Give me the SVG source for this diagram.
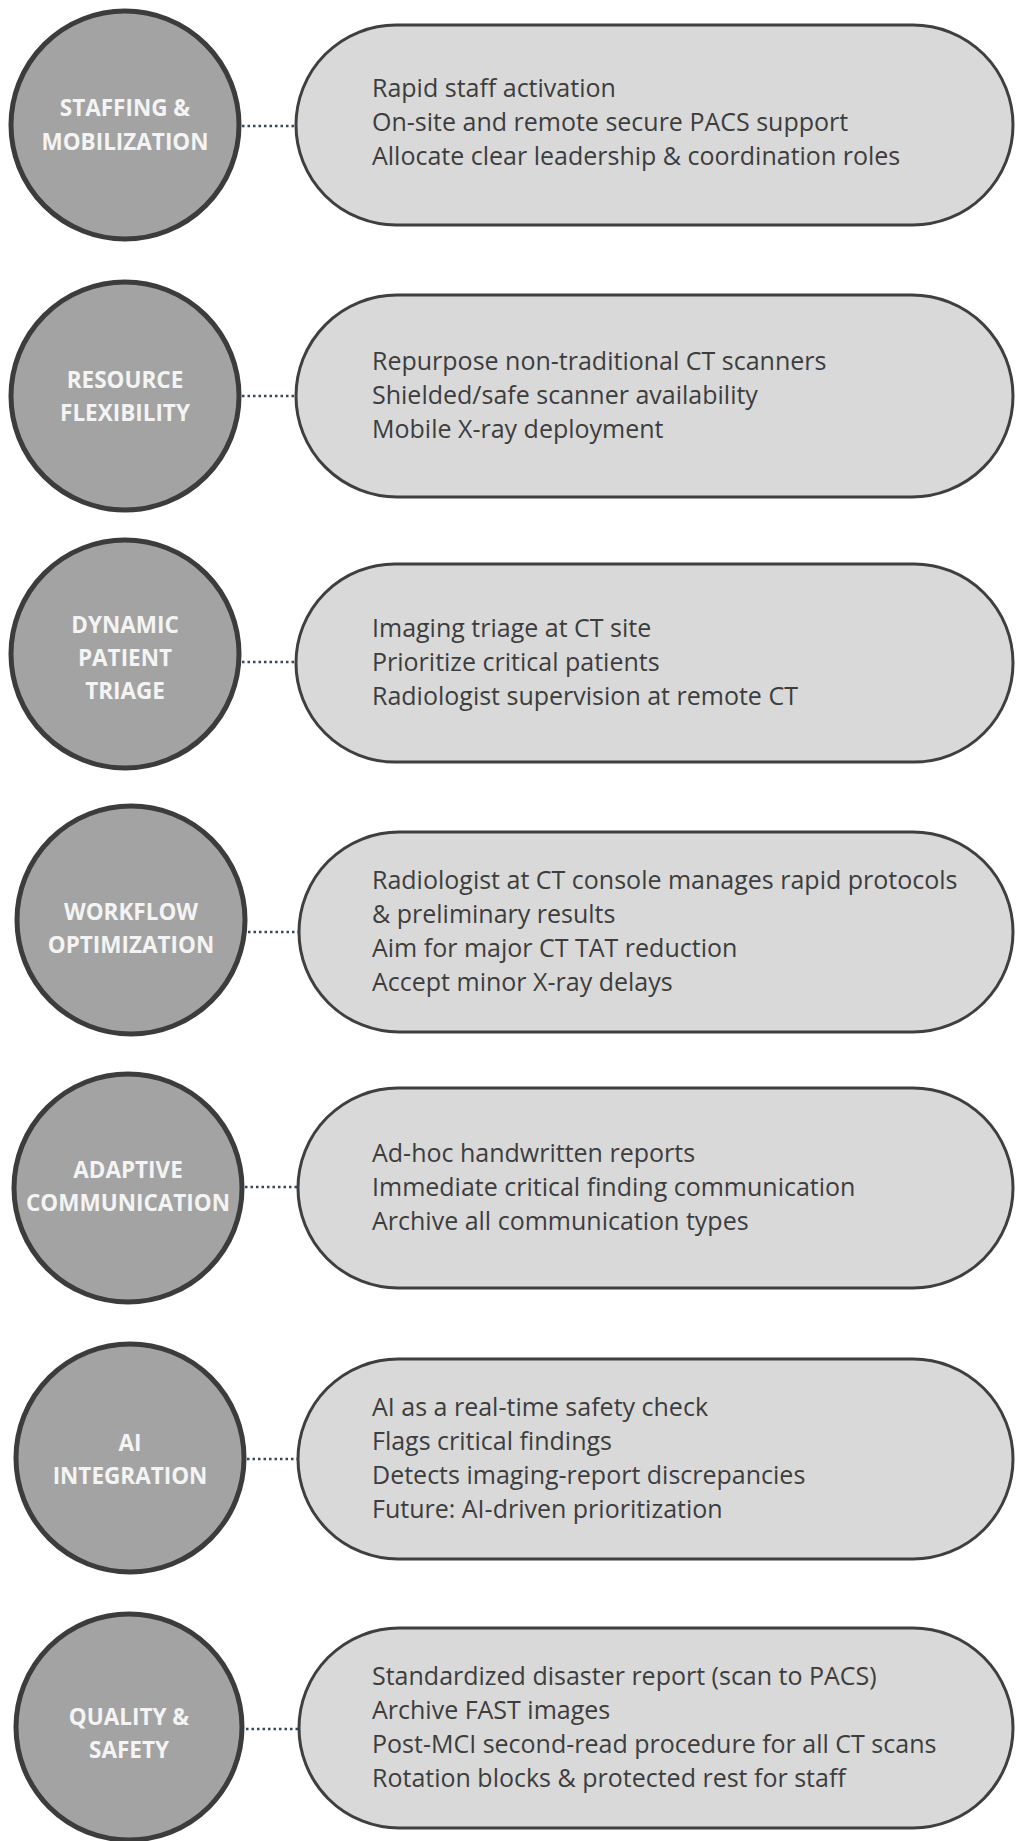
<svg xmlns="http://www.w3.org/2000/svg" width="1016" height="1841" viewBox="0 0 1016 1841">
<style>
.circ{fill:#a3a3a3;stroke:#3c3c3c;stroke-width:5}
.pill{fill:#d9d9d9;stroke:#3f3f3f;stroke-width:3}
.lbl{font-family:"Open Sans","Liberation Sans",sans-serif;font-weight:700;font-size:22.5px;fill:#f4f4f4;text-anchor:middle}
.txt{font-family:"Open Sans","Liberation Sans",sans-serif;font-size:25px;fill:#3d3d3d}
.con{stroke:#34495e;stroke-width:2.5;stroke-dasharray:2.5 3;fill:none}
</style>
<rect width="1016" height="1841" fill="#ffffff"/>
<g id="connectors">
<line class="con" x1="242" y1="126" x2="296" y2="126"/>
<line class="con" x1="242" y1="396" x2="296" y2="396"/>
<line class="con" x1="242" y1="662" x2="296" y2="662"/>
<line class="con" x1="248" y1="932" x2="300" y2="932"/>
<line class="con" x1="245" y1="1187" x2="298" y2="1187"/>
<line class="con" x1="247" y1="1459" x2="298" y2="1459"/>
<line class="con" x1="246" y1="1729" x2="299" y2="1729"/>
</g>
<g id="n1">
<circle class="circ" cx="125" cy="125" r="114"/>
<text class="lbl" x="125" y="116">STAFFING &amp;</text>
<text class="lbl" x="125" y="150">MOBILIZATION</text>
<rect class="pill" x="296" y="25" width="717" height="200" rx="100"/>
<text class="txt" x="372" y="97">Rapid staff activation</text>
<text class="txt" x="372" y="131">On-site and remote secure PACS support</text>
<text class="txt" x="372" y="165">Allocate clear leadership &amp; coordination roles</text>
</g>
<g id="n2">
<circle class="circ" cx="125" cy="396" r="114"/>
<text class="lbl" x="125" y="388">RESOURCE</text>
<text class="lbl" x="125" y="421">FLEXIBILITY</text>
<rect class="pill" x="296" y="295" width="717" height="202" rx="101"/>
<text class="txt" x="372" y="370">Repurpose non-traditional CT scanners</text>
<text class="txt" x="372" y="404">Shielded/safe scanner availability</text>
<text class="txt" x="372" y="438">Mobile X-ray deployment</text>
</g>
<g id="n3">
<circle class="circ" cx="125" cy="654" r="114"/>
<text class="lbl" x="125" y="633">DYNAMIC</text>
<text class="lbl" x="125" y="666">PATIENT</text>
<text class="lbl" x="125" y="699">TRIAGE</text>
<rect class="pill" x="296" y="564" width="717" height="198" rx="99"/>
<text class="txt" x="372" y="637">Imaging triage at CT site</text>
<text class="txt" x="372" y="671">Prioritize critical patients</text>
<text class="txt" x="372" y="705">Radiologist supervision at remote CT</text>
</g>
<g id="n4">
<circle class="circ" cx="131" cy="920" r="114"/>
<text class="lbl" x="131" y="920">WORKFLOW</text>
<text class="lbl" x="131" y="953">OPTIMIZATION</text>
<rect class="pill" x="299" y="832" width="714" height="200" rx="100"/>
<text class="txt" x="372" y="889">Radiologist at CT console manages rapid protocols</text>
<text class="txt" x="372" y="923">&amp; preliminary results</text>
<text class="txt" x="372" y="957">Aim for major CT TAT reduction</text>
<text class="txt" x="372" y="991">Accept minor X-ray delays</text>
</g>
<g id="n5">
<circle class="circ" cx="128" cy="1188" r="114"/>
<text class="lbl" x="128" y="1178">ADAPTIVE</text>
<text class="lbl" x="128" y="1211">COMMUNICATION</text>
<rect class="pill" x="298" y="1088" width="715" height="200" rx="100"/>
<text class="txt" x="372" y="1162">Ad-hoc handwritten reports</text>
<text class="txt" x="372" y="1196">Immediate critical finding communication</text>
<text class="txt" x="372" y="1230">Archive all communication types</text>
</g>
<g id="n6">
<circle class="circ" cx="130" cy="1458" r="114"/>
<text class="lbl" x="130" y="1451">AI</text>
<text class="lbl" x="130" y="1484">INTEGRATION</text>
<rect class="pill" x="298" y="1359" width="715" height="200" rx="100"/>
<text class="txt" x="372" y="1416">AI as a real-time safety check</text>
<text class="txt" x="372" y="1450">Flags critical findings</text>
<text class="txt" x="372" y="1484">Detects imaging-report discrepancies</text>
<text class="txt" x="372" y="1518">Future: AI-driven prioritization</text>
</g>
<g id="n7">
<circle class="circ" cx="129" cy="1727" r="113"/>
<text class="lbl" x="129" y="1725">QUALITY &amp;</text>
<text class="lbl" x="129" y="1758">SAFETY</text>
<rect class="pill" x="299" y="1628" width="714" height="200" rx="100"/>
<text class="txt" x="372" y="1685">Standardized disaster report (scan to PACS)</text>
<text class="txt" x="372" y="1719">Archive FAST images</text>
<text class="txt" x="372" y="1753">Post-MCI second-read procedure for all CT scans</text>
<text class="txt" x="372" y="1787">Rotation blocks &amp; protected rest for staff</text>
</g>
</svg>
